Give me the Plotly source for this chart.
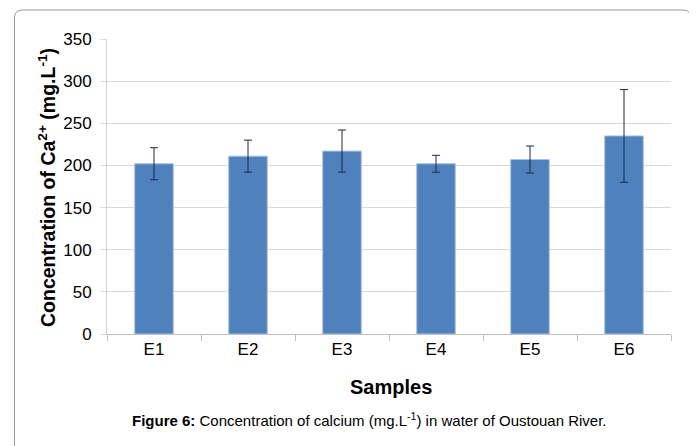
import plotly.graph_objects as go

samples = ["E1", "E2", "E3", "E4", "E5", "E6"]
calcium = [202, 211, 217, 202, 207, 235]
calcium_err = [19, 19, 25, 10, 16, 55]
y_ticks = [0, 50, 100, 150, 200, 250, 300, 350]

# page body has an 8px margin, so the figure is drawn 8px in and 8px down
W, H = 689, 438
L, R, T, B = 99, 663, 31, 326
pw, ph = R - L, B - T

def px(x):
    return (x - L) / pw

def py(y):
    return (B - y) / ph

fig = go.Figure()
fig.add_trace(go.Bar(
    x=samples, y=calcium,
    width=0.41,
    marker=dict(color="#4F81BD", line=dict(color="#A9C0E0", width=1)),
    error_y=dict(type="data", array=calcium_err, visible=True,
                 color="#1A2A44", thickness=1, width=4),
))

# rounded border
x0, x1, y0, y1 = px(6.5), px(683), py(2), py(460)
rx, ry = 8 / pw, 8 / ph
path = (f"M {x0},{y1} L {x0},{y0 - ry} Q {x0},{y0} {x0 + rx},{y0} "
        f"L {x1 - rx},{y0} Q {x1},{y0} {x1},{y0 - ry} L {x1},{y1}")
fig.add_shape(type="path", path=path, xref="paper", yref="paper",
              line=dict(color="#9a9a9a", width=1))

fig.add_annotation(
    text="<b>Concentration of Ca<sup>2+</sup> (mg.L<sup>-1</sup>)</b>",
    xref="paper", yref="paper", x=px(39), y=py(180), textangle=-90,
    showarrow=False, font=dict(size=19.5, color="#000", family="Liberation Sans"),
    xanchor="center", yanchor="middle")
fig.add_annotation(
    text="<b>Samples</b>", xref="paper", yref="paper", x=px(382.5),
    y=py(379), showarrow=False, xanchor="center", yanchor="middle",
    font=dict(size=20, color="#000", family="Liberation Sans"))
fig.add_annotation(
    text="<b>Figure 6:</b> Concentration of calcium (mg.L<sup>-1</sup>) in water of Oustouan River.",
    xref="paper", yref="paper", x=px(361.5), y=py(411), showarrow=False,
    xanchor="center", yanchor="middle",
    font=dict(size=15, color="#000", family="Liberation Sans"))

fig.update_layout(
    width=W, height=H,
    margin=dict(l=L, r=W - R, t=T, b=H - B, pad=0),
    paper_bgcolor="white", plot_bgcolor="white",
    showlegend=False,
    font=dict(family="Liberation Sans", color="#000"),
    xaxis=dict(
        type="category", showgrid=False, showline=True, linecolor="#bfbfbf", linewidth=1,
        ticks="outside", tickson="boundaries", ticklen=6, tickcolor="#bfbfbf",
        tickfont=dict(size=17, color="#000"), range=[-0.5, 5.5],
    ),
    yaxis=dict(
        range=[0, 350], tickvals=y_ticks, showgrid=True, gridcolor="#d9d9d9", gridwidth=1,
        showline=True, linecolor="#d0d0d0", linewidth=1, zeroline=False,
        ticks="outside", ticklen=6, tickcolor="#d9d9d9",
        tickfont=dict(size=17, color="#000"), ticklabelstandoff=5,
    ),
)

fig.write_html("out.html")
